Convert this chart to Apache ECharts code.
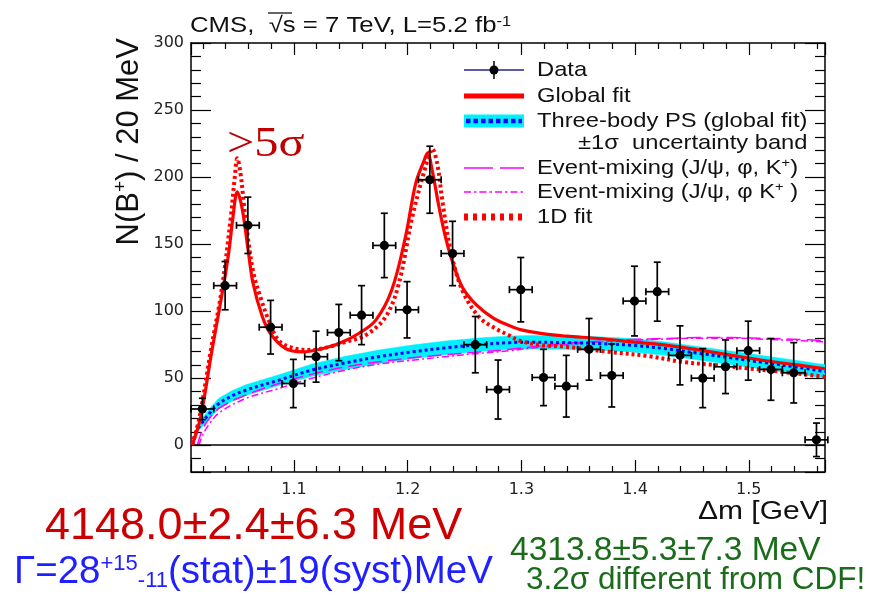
<!DOCTYPE html>
<html>
<head>
<meta charset="utf-8">
<script src="https://cdn.jsdelivr.net/npm/echarts@6/dist/echarts.min.js"></script>
<style>
  html, body { margin: 0; padding: 0; background: #fff; }
  #chart { width: 870px; height: 595px; }
</style>
</head>
<body>
<div id="chart"></div>
<script>
// Δm bin centres (GeV), B+ yields per 20 MeV and their errors
const binCenters = [1.0195, 1.0395, 1.0595, 1.0795, 1.0995, 1.1195, 1.1395, 1.1595, 1.1795, 1.1995,
                    1.2195, 1.2395, 1.2595, 1.2795, 1.2995, 1.3195, 1.3395, 1.3595, 1.3795, 1.3995,
                    1.4195, 1.4395, 1.4595, 1.4795, 1.4995, 1.5195, 1.5395, 1.5595];
const yields = [27, 119, 164, 88, 46, 66, 84, 97, 149, 101,
                198, 143, 75, 41.5, 116, 50.5, 44, 71.5, 52, 107.5,
                114.5, 67, 50, 58.5, 70.5, 56.5, 54, 4];
const yieldErrors = [8, 18, 21, 20, 18, 19, 21, 22, 24, 21,
                     25, 24, 21, 22, 24, 21, 23, 23, 23.5, 26,
                     22, 22, 22, 20, 22, 23, 22.5, 12.5];
const binHalfWidth = 0.01;

// Global fit (two peaks on three-body phase space)
const globalFitX = [1.0106, 1.018, 1.028, 1.0385, 1.0429, 1.0464, 1.0502, 1.0546, 1.0598, 1.064, 1.0722, 1.0795,
                    1.0927, 1.1073, 1.122, 1.14, 1.157, 1.172, 1.186, 1.198, 1.207, 1.2143, 1.2175, 1.2216,
                    1.2275, 1.2333, 1.239, 1.248, 1.26, 1.275, 1.29, 1.30, 1.32, 1.34, 1.368, 1.397, 1.427,
                    1.456, 1.485, 1.515, 1.544, 1.567];
const globalFitY = [0, 21, 71, 121, 145, 170, 189, 176, 145, 121, 96, 83,
                    72, 69.6, 71.4, 76, 83.3, 93.3, 115.7, 155, 195, 212, 218, 205,
                    178, 155, 138, 118, 105, 95, 89, 86, 83, 81.3, 79.6, 77, 74.6,
                    71, 67, 63, 59.7, 57];

// 1D fit
const fit1DX = [1.0106, 1.017, 1.027, 1.0365, 1.0445, 1.048, 1.0502, 1.053, 1.056, 1.0595, 1.0645, 1.0707, 1.077,
                1.0868, 1.1015, 1.116, 1.131, 1.1454, 1.163, 1.1806, 1.1923, 1.204, 1.2158, 1.2216, 1.226,
                1.2304, 1.2377, 1.248, 1.2627, 1.2773, 1.289, 1.298, 1.318, 1.339, 1.377, 1.412, 1.441,
                1.471, 1.5, 1.529, 1.567];
const fit1DY = [0, 21, 71, 116, 170, 200, 214, 203, 180, 155, 128, 110, 95,
                78, 72, 71, 73.4, 77, 82, 95.7, 120.6, 170, 207.7, 221, 210,
                183, 145.5, 115.7, 95.7, 87, 82, 78, 74.6, 73.4, 69.6, 66.4, 62.2,
                59.7, 57.2, 54.7, 51];

// Three-body phase space (global fit) with its ±1σ band
const phaseSpaceX = [1.0106, 1.013, 1.016, 1.0195, 1.026, 1.034, 1.045, 1.0576, 1.0868, 1.116, 1.1454, 1.1747,
                     1.204, 1.2333, 1.2627, 1.289, 1.3095, 1.339, 1.368, 1.397, 1.4267, 1.456, 1.4853, 1.5146,
                     1.544, 1.567];
const phaseSpaceY = [0, 8, 13, 17, 24, 31, 36.5, 41, 48.5, 56, 61.4, 66,
                     69.6, 72.6, 75, 76.5, 76.8, 76.5, 75.8, 74.5, 72, 68.5, 65, 61.5,
                     58, 55];
const bandLow = [0, 6, 10.5, 14, 20.5, 27, 32.5, 37, 44.5, 51.5, 56.5, 61,
                 64.5, 67.5, 70, 71.5, 71.8, 71.5, 70.8, 69.5, 67, 63.5, 60, 56.5,
                 53, 50];
const bandHigh = [0, 10, 15.5, 20, 27.5, 35, 40.5, 45, 52.5, 60.5, 66.3, 71,
                  74.7, 77.7, 80, 81.5, 81.8, 81.5, 80.8, 79.5, 77, 73.5, 70, 66.5,
                  63, 60];

// Event-mixing shapes
const mixAX = [1.015, 1.018, 1.0224, 1.034, 1.0576, 1.0868, 1.116, 1.1454, 1.1747, 1.204, 1.233, 1.263,
               1.29, 1.31, 1.339, 1.368, 1.397, 1.427, 1.456, 1.485, 1.515, 1.544, 1.567];
const mixAY = [0, 8, 16, 27.4, 37.3, 46, 53, 58.4, 62.2, 65.2, 67.5, 69.5,
               71.5, 73.4, 75.9, 77.6, 78.9, 79.6, 80.3, 80.3, 79.6, 78.9, 78];
const mixBX = [1.0165, 1.02, 1.025, 1.034, 1.0576, 1.0868, 1.116, 1.1454, 1.1747, 1.204, 1.233, 1.263,
               1.29, 1.31, 1.339, 1.368, 1.397, 1.427, 1.456, 1.485, 1.515, 1.544, 1.567];
const mixBY = [0, 8, 15, 24, 34.8, 42.3, 50, 56, 60.5, 63.4, 66, 68.5,
               70.5, 72.5, 75, 77, 78.3, 79.2, 79.8, 79.8, 79, 78, 77];

const X_MIN = 1.0095, X_MAX = 1.567, Y_MIN = -20, Y_MAX = 300;

const pairs = (xs, ys) => xs.map((x, i) => [x, ys[i]]);
const FONT = '"Liberation Sans", Arial, sans-serif';

const chart = echarts.init(document.getElementById('chart'), null, { renderer: 'canvas' });

const axisBase = {
  type: 'value', splitNumber: 5,
  axisLine: { show: true, onZero: false, lineStyle: { color: '#000', width: 1.5 } },
  splitLine: { show: false }
};

function xAxisDef(pos, showLabel) {
  return Object.assign({}, axisBase, {
    position: pos, min: X_MIN, max: X_MAX,
    axisTick: { show: true, inside: true, length: 12, lineStyle: { color: '#000', width: 1.2 } },
    minorTick: { show: true, splitNumber: 5, length: 6, lineStyle: { color: '#000', width: 1.2 } },
    axisLabel: {
      show: showLabel, showMinLabel: false, showMaxLabel: false,
      color: '#222', fontSize: 16, fontFamily: '"DejaVu Sans", sans-serif', margin: 10,
      formatter: v => v.toFixed(1)
    }
  });
}
function yAxisDef(pos, showLabel) {
  return Object.assign({}, axisBase, {
    position: pos, min: Y_MIN, max: Y_MAX,
    axisTick: { show: true, inside: true, length: 20, lineStyle: { color: '#000', width: 1.2 } },
    minorTick: { show: true, splitNumber: 5, length: 10, lineStyle: { color: '#000', width: 1.2 } },
    axisLabel: {
      show: showLabel, showMinLabel: false, showMaxLabel: true,
      color: '#222', fontSize: 16, fontFamily: '"DejaVu Sans", sans-serif', margin: 7
    }
  });
}

function lineSeries(name, xs, ys, style, z) {
  return {
    name, type: 'line', data: pairs(xs, ys), showSymbol: false, symbol: 'none',
    smooth: 0.35, clip: true, z, lineStyle: style, silent: true
  };
}

const option = {
  animation: false,
  backgroundColor: '#fff',
  grid: { left: 191, right: 45, top: 43, bottom: 123, containLabel: false },
  xAxis: [xAxisDef('bottom', true), xAxisDef('top', false)],
  yAxis: [yAxisDef('left', true), yAxisDef('right', false)],
  series: [
    // ±1σ band of the three-body phase space, drawn as one closed polygon
    {
      name: 'Three-body PS band', type: 'custom', z: 1, silent: true, clip: true,
      data: [[phaseSpaceX[0], bandLow[0]]],
      renderItem(params, api) {
        const upper = phaseSpaceX.map((x, i) => api.coord([x, bandHigh[i]]));
        const lower = phaseSpaceX.map((x, i) => api.coord([x, bandLow[i]])).reverse();
        return {
          type: 'polygon',
          shape: { points: upper.concat(lower) },
          style: { fill: '#00f0ff', stroke: '#00f0ff', lineWidth: 0.5 }
        };
      }
    },
    lineSeries('Event-mixing (J/ψ, φ, K+)', mixAX, mixAY, { color: '#ff00ff', width: 1.5, type: [14, 6] }, 2),
    lineSeries('Event-mixing (J/ψ, φ K+)', mixBX, mixBY, { color: '#ff00ff', width: 1.5, type: [7, 3, 2, 3] }, 2),
    lineSeries('Three-body PS', phaseSpaceX, phaseSpaceY, { color: '#0000ff', width: 3, type: [3, 3] }, 3),
    lineSeries('1D fit', fit1DX, fit1DY, { color: '#ff0000', width: 4, type: [3, 3] }, 4),
    lineSeries('Global fit', globalFitX, globalFitY, { color: '#ff0000', width: 3.2 }, 5),
    // zero line
    {
      name: 'zero', type: 'line', data: [], silent: true, z: 6,
      markLine: {
        silent: true, symbol: 'none', label: { show: false },
        lineStyle: { color: '#000', width: 1.5, type: 'solid' },
        data: [{ yAxis: 0 }]
      }
    },
    // data points with error bars
    {
      name: 'Data', type: 'custom', z: 10, silent: true,
      data: binCenters.map((x, i) => [x, yields[i], yieldErrors[i]]),
      renderItem(params, api) {
        const x = api.value(0), y = api.value(1), e = api.value(2);
        const c = api.coord([x, y]);
        const l = api.coord([x - binHalfWidth, y]);
        const r = api.coord([x + binHalfWidth, y]);
        const t = api.coord([x, y + e]);
        const b = api.coord([x, y - e]);
        const s = { stroke: '#000', lineWidth: 1.7 };
        const cap = 3.5;
        const seg = (x1, y1, x2, y2) => ({ type: 'line', shape: { x1, y1, x2, y2 }, style: s });
        return {
          type: 'group',
          children: [
            seg(l[0], c[1], r[0], c[1]),
            seg(c[0], t[1], c[0], b[1]),
            seg(l[0], c[1] - cap, l[0], c[1] + cap),
            seg(r[0], c[1] - cap, r[0], c[1] + cap),
            seg(c[0] - cap, t[1], c[0] + cap, t[1]),
            seg(c[0] - cap, b[1], c[0] + cap, b[1]),
            { type: 'circle', shape: { cx: c[0], cy: c[1], r: 4.6 }, style: { fill: '#000' } }
          ]
        };
      }
    }
  ],
  graphic: []
};

// ---- text and legend drawn as graphic elements ----
const g = option.graphic;

// title
g.push({
  type: 'text', x: 190, y: 26, scaleX: 1.17, silent: true, z: 100,
  style: {
    text: 'CMS,  √s = 7 TeV, L=5.2 fb{sup|-1}',
    font: '22px ' + FONT, fill: '#111', verticalAlign: 'middle',
    rich: { sup: { font: '14px ' + FONT, fill: '#111', verticalAlign: 'top', lineHeight: 14, padding: [0, 0, 12, 0] } }
  }
});
g.push({ type: 'line', silent: true, z: 100, shape: { x1: 268, y1: 13, x2: 292, y2: 13 }, style: { stroke: '#111', lineWidth: 1.3 } });

// axis titles
g.push({
  type: 'text', x: 129, y: 38, rotation: Math.PI / 2, silent: true, z: 100,
  style: {
    text: 'N(B{sup|+}) / 20 MeV', font: '31px ' + FONT, fill: '#111', align: 'right', verticalAlign: 'middle',
    rich: { sup: { font: '19px ' + FONT, fill: '#111', verticalAlign: 'top', padding: [0, 0, 16, 0] } }
  }
});
g.push({
  type: 'text', x: 828, y: 512, scaleX: 1.2, silent: true, z: 100,
  style: { text: 'Δm [GeV]', font: '25px ' + FONT, fill: '#111', align: 'right', verticalAlign: 'middle' }
});

// legend symbols
const LX0 = 464, LX1 = 524;
const legendRows = [70, 96, 121, 143, 168, 192, 217];
g.push({ type: 'line', silent: true, z: 100, shape: { x1: LX0, y1: legendRows[0], x2: LX1, y2: legendRows[0] }, style: { stroke: '#22228c', lineWidth: 1.5 } });
g.push({ type: 'line', silent: true, z: 100, shape: { x1: 494, y1: legendRows[0] - 9, x2: 494, y2: legendRows[0] + 9 }, style: { stroke: '#000', lineWidth: 1.5 } });
g.push({ type: 'circle', silent: true, z: 101, shape: { cx: 494, cy: legendRows[0], r: 4.5 }, style: { fill: '#000' } });
g.push({ type: 'line', silent: true, z: 100, shape: { x1: LX0, y1: legendRows[1], x2: LX1, y2: legendRows[1] }, style: { stroke: '#ff0000', lineWidth: 5 } });
g.push({ type: 'rect', silent: true, z: 100, shape: { x: LX0, y: legendRows[2] - 6.5, width: LX1 - LX0, height: 13 }, style: { fill: '#00f0ff' } });
g.push({ type: 'line', silent: true, z: 101, shape: { x1: LX0 + 2, y1: legendRows[2], x2: LX1 - 2, y2: legendRows[2] }, style: { stroke: '#0000ff', lineWidth: 4.5, lineDash: [4.5, 3] } });
g.push({ type: 'line', silent: true, z: 100, shape: { x1: LX0, y1: legendRows[4], x2: LX1, y2: legendRows[4] }, style: { stroke: '#ff00ff', lineWidth: 1.5, lineDash: [29, 7] } });
g.push({ type: 'line', silent: true, z: 100, shape: { x1: LX0, y1: legendRows[5], x2: LX1, y2: legendRows[5] }, style: { stroke: '#ff00ff', lineWidth: 1.5, lineDash: [7, 3, 2.5, 3] } });
g.push({ type: 'line', silent: true, z: 100, shape: { x1: LX0, y1: legendRows[6], x2: LX1, y2: legendRows[6] }, style: { stroke: '#ff0000', lineWidth: 7, lineDash: [4, 5] } });

// legend labels
const legendLabels = [
  [537, 'Data'],
  [537, 'Global fit'],
  [537, 'Three-body PS (global fit)'],
  [578, '±1σ  uncertainty band'],
  [537, 'Event-mixing (J/ψ, φ, K{sup|+})'],
  [537, 'Event-mixing (J/ψ, φ K{sup|+} )'],
  [537, '1D fit']
];
legendLabels.forEach(([x, t], i) => {
  g.push({
    type: 'text', x, y: legendRows[i], scaleX: 1.13, silent: true, z: 100,
    style: {
      text: t, font: '21px ' + FONT, fill: '#111', verticalAlign: 'middle',
      rich: { sup: { font: '13px ' + FONT, fill: '#111', verticalAlign: 'top', padding: [0, 0, 10, 0] } }
    }
  });
});

// significance note
g.push({
  type: 'text', x: 227, y: 145, scaleX: 1.15, silent: true, z: 100,
  style: { text: '>5σ', font: '42px "Liberation Serif", serif', fill: '#c00000', verticalAlign: 'middle' }
});

// mass / width results
g.push({
  type: 'text', x: 45, y: 527, silent: true, z: 100,
  style: { text: '4148.0±2.4±6.3 MeV', font: '45px ' + FONT, fill: '#cc0000', verticalAlign: 'middle' }
});
g.push({
  type: 'text', x: 14, y: 572, silent: true, z: 100,
  style: {
    text: 'Γ=28{sup|+15}{sub|-11}(stat)±19(syst)MeV', font: '38.5px ' + FONT, fill: '#1f1fff', verticalAlign: 'middle',
    rich: {
      sup: { font: '22px ' + FONT, fill: '#1f1fff', verticalAlign: 'top', padding: [0, 0, 16, 0] },
      sub: { font: '22px ' + FONT, fill: '#1f1fff', verticalAlign: 'bottom', padding: [16, 0, 0, 0] }
    }
  }
});
g.push({
  type: 'text', x: 510, y: 551, silent: true, z: 100,
  style: { text: '4313.8±5.3±7.3 MeV', font: '33.5px ' + FONT, fill: '#1a6b1a', verticalAlign: 'middle' }
});
g.push({
  type: 'text', x: 526, y: 580, silent: true, z: 100,
  style: { text: '3.2σ different from CDF!', font: '31.5px ' + FONT, fill: '#1a6b1a', verticalAlign: 'middle' }
});

chart.setOption(option);
</script>
</body>
</html>
